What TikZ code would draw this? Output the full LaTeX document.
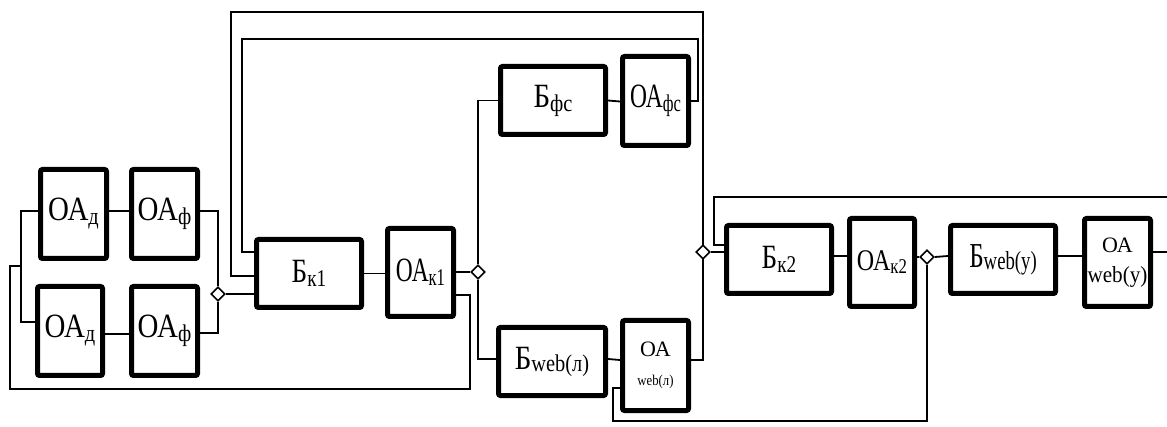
\documentclass[tikz,border=0pt]{standalone}
\usepackage{fontspec}
\setmainfont{Liberation Serif}
\usepackage{graphicx}
\usetikzlibrary{shapes.geometric}
\newcommand\fsz[1]{\fontsize{#1}{#1}\selectfont}
\newcommand\lowr[3]{\raisebox{-#1pt}{\fsz{#2}#3}}
\newcommand\sqz[2]{\scalebox{#1}[1]{#2}}
\newcommand\twoline[3]{\vbox{\offinterlineskip\halign{\hfil##\hfil\cr #1\cr\noalign{\vskip#3pt}#2\cr}}}
\begin{document}
\begin{tikzpicture}[x=1pt,y=-1pt,
  blk/.style={draw, line width=5pt, rounded corners=2pt, inner sep=0pt, fill=white},
  tall/.style={blk, minimum width=66pt, minimum height=89pt},
  wide/.style={blk, minimum width=105pt, minimum height=68pt},
  ln/.style={line width=1.8pt},
  dia/.style={diamond, draw, line width=1.6pt, minimum width=14pt, minimum height=14pt, inner sep=0pt},
  diaw/.style={dia, fill=white}]
\useasboundingbox (0,0) rectangle (1167,427);
% blocks
\node[tall] (OAd1) at (73.5,214) {\raisebox{5pt}{\sqz{0.85}{\fsz{34}ОА\lowr{4}{24}{д}}}};
\node[tall] (OAf1) at (164.5,214) {\sqz{0.85}{\fsz{34}ОА\lowr{4}{24}{ф}}};
\node[tall, minimum width=65pt] (OAd2) at (70,331) {\raisebox{-3pt}{\sqz{0.85}{\fsz{34}ОА\lowr{4}{24}{д}}}};
\node[tall] (OAf2) at (164.5,331) {\raisebox{4pt}{\sqz{0.85}{\fsz{34}ОА\lowr{4}{24}{ф}}}};
\node[wide] (Bk1) at (309,273.5) {\sqz{0.8}{\fsz{34}Б\lowr{4}{24}{к1}}};
\node[tall, minimum height=88pt] (OAk1) at (420.5,272.5) {\raisebox{4pt}{\sqz{0.69}{\fsz{34}ОА\lowr{4}{24}{к1}}}};
\node[wide] (Bfs) at (553,100.5) {\sqz{0.85}{\fsz{34}Б\lowr{4}{24}{фс}}};
\node[tall] (OAfs) at (655.5,101) {\sqz{0.69}{\fsz{34}ОА\lowr{4}{24}{фс}}};
\node[wide, minimum width=107pt] (Bwl) at (552,361.5) {\sqz{0.85}{\fsz{34}Б\lowr{2}{24}{web(л)}}};
\node[tall, minimum height=90pt] (OAwl) at (655.5,365.5)
  {\twoline{\fsz{22}ОА}{\sqz{0.85}{\fsz{15}web(л)}}{18}};
\node[wide] (Bk2) at (779,259.5) {\sqz{0.8}{\fsz{34}Б\lowr{4}{24}{к2}}};
\node[tall, minimum width=65pt, minimum height=88pt] (OAk2) at (882,262.5) {\sqz{0.8}{\fsz{30}ОА\lowr{3}{21}{к2}}};
\node[wide] (Bwu) at (1003,259.5) {\raisebox{3pt}{\sqz{0.72}{\fsz{35}Б\lowr{2}{26}{web(у)}}}};
\node[tall, minimum height=88pt] (OAwu) at (1117.5,262.5)
  {\twoline{\fsz{22}ОА}{\sqz{0.92}{\fsz{23}web(у)}}{14}};
% junction points
\coordinate (jl) at (21,266);
\coordinate (c1) at (470,389);
\coordinate (c2) at (10,266);
\coordinate (c3) at (242,39);
\coordinate (c4) at (698,101);
\coordinate (c5) at (231,12);
\coordinate (c6) at (703,360);
\coordinate (c7) at (714,197);
\coordinate (e1) at (1167,197);
\coordinate (e2) at (1167,252);
\coordinate (c8) at (613,421);
\coordinate (v1) at (478,272);
% connectors
\draw[ln] ([yshift=3pt]OAd1.east) -- ([yshift=3pt]OAf1.west);
\draw[ln] ([yshift=-3pt]OAd2.east) -- ([yshift=-3pt]OAf2.west);
\draw[ln] ([yshift=3pt]OAd1.west) -| (jl) |- ([yshift=9pt]OAd2.west);
\draw[ln] ([yshift=-22.5pt]OAk1.east) -| (c1) -| (c2) -- (jl);
\node[diaw] (D1) at (218,294) {};
\draw[ln] ([yshift=3pt]OAf1.east) -| (D1.north);
\draw[ln] ([yshift=-2pt]OAf2.east) -| (D1.south);
\draw[ln] (D1.east) -- ([yshift=-20.5pt]Bk1.west);
\draw[ln] ([yshift=21.5pt]Bk1.west) -| (c3) -| (c4) -- (OAfs.east);
\draw[ln] ([yshift=-2.5pt]Bk1.west) -| (c5) -| (c6) -- ([yshift=5.5pt]OAwl.east);
\draw[ln] (Bk1.east) -- ([yshift=-1pt]OAk1.west);
\node[dia] (D2) at (v1) {};
\draw[ln] ([yshift=0.5pt]OAk1.east) -- (D2.west);
\draw[ln] (Bfs.west) -| (D2.north);
\draw[ln] (D2.south) |- ([yshift=2.5pt]Bwl.west);
\draw[ln] (Bfs.east) -- ([yshift=-0.5pt]OAfs.west);
\draw[ln] ([yshift=2.5pt]Bwl.east) -- ([yshift=5.5pt]OAwl.west);
\node[diaw] (D3) at (703,252) {};
\draw[ln] (D3.east) -- ([yshift=7.5pt]Bk2.west);
\draw[ln] ([yshift=14.5pt]Bk2.west) -| (c7) -- (e1);
\draw[ln] ([yshift=3.5pt]Bk2.east) -- ([yshift=6.5pt]OAk2.west);
\node[diaw] (D4) at (927,257) {};
\draw[ln] ([yshift=5.5pt]OAk2.east) -- (D4.west);
\draw[ln] (D4.east) -- ([yshift=3.5pt]Bwu.west);
\draw[ln] ([yshift=3.5pt]Bwu.east) -- ([yshift=6.5pt]OAwu.west);
\draw[ln] ([yshift=10.5pt]OAwu.east) -- (e2);
\draw[ln] (D4.south) |- (c8) |- ([yshift=-22.5pt]OAwl.west);
\end{tikzpicture}
\end{document}
